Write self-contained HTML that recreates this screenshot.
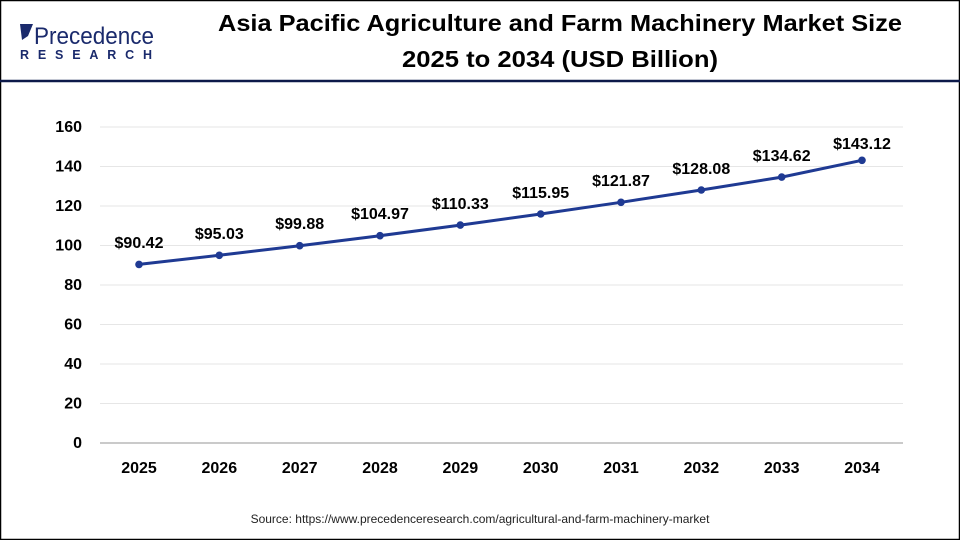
<!DOCTYPE html>
<html><head><meta charset="utf-8"><style>
body{margin:0;width:960px;height:540px;overflow:hidden;background:#fff;font-family:"Liberation Sans",Arial,sans-serif}
</style></head><body>
<svg width="960" height="540" xmlns="http://www.w3.org/2000/svg" font-family="Liberation Sans, Arial, sans-serif">
<rect x="0.5" y="0.5" width="959" height="539" fill="#fff" stroke="#000" stroke-width="1.5"/>
<line x1="0" y1="81" x2="960" y2="81" stroke="#0d1a4a" stroke-width="2.5"/>
<text x="34" y="44" font-size="24" fill="#1a2a6c" textLength="120" lengthAdjust="spacingAndGlyphs">Precedence</text>
<path d="M20 24 L33 24 L28 36 L22 40 Z" fill="#1a2a6c"/>
<text x="20" y="59" font-size="12.5" fill="#1a2a6c" font-weight="bold" textLength="132" lengthAdjust="spacing">RESEARCH</text>
<text x="560" y="31" font-size="23" font-weight="bold" text-anchor="middle" fill="#000" textLength="684" lengthAdjust="spacingAndGlyphs">Asia Pacific Agriculture and Farm Machinery Market Size</text>
<text x="560" y="67" font-size="23" font-weight="bold" text-anchor="middle" fill="#000" textLength="316" lengthAdjust="spacingAndGlyphs">2025 to 2034 (USD Billion)</text>
<g stroke="#e6e6e6" stroke-width="1">
<line x1="100" x2="903" y1="127" y2="127"/><line x1="100" x2="903" y1="166.5" y2="166.5"/><line x1="100" x2="903" y1="206" y2="206"/><line x1="100" x2="903" y1="245.5" y2="245.5"/><line x1="100" x2="903" y1="285" y2="285"/><line x1="100" x2="903" y1="324.5" y2="324.5"/><line x1="100" x2="903" y1="364" y2="364"/><line x1="100" x2="903" y1="403.5" y2="403.5"/>
</g>
<line x1="100" x2="903" y1="443" y2="443" stroke="#aaa" stroke-width="1.2"/>
<g font-size="16" font-weight="bold" text-anchor="end" fill="#000">
<text x="82" y="132">160</text><text x="82" y="171.5">140</text><text x="82" y="211">120</text><text x="82" y="250.5">100</text><text x="82" y="290">80</text><text x="82" y="329.5">60</text><text x="82" y="369">40</text><text x="82" y="408.5">20</text><text x="82" y="448">0</text>
</g>
<g font-size="16" font-weight="bold" text-anchor="middle" fill="#000">
<text x="139" y="473">2025</text><text x="219.3" y="473">2026</text><text x="299.7" y="473">2027</text><text x="380" y="473">2028</text><text x="460.3" y="473">2029</text><text x="540.7" y="473">2030</text><text x="621" y="473">2031</text><text x="701.3" y="473">2032</text><text x="781.7" y="473">2033</text><text x="862" y="473">2034</text>
</g>
<polyline fill="none" stroke="#1f3a93" stroke-width="3" points="139,264.4 219.3,255.3 299.7,245.7 380,235.7 460.3,225.1 540.7,214 621,202.3 701.3,190 781.7,177.1 862,160.3"/>
<g fill="#1f3a93">
<circle cx="139" cy="264.4" r="3.8"/><circle cx="219.3" cy="255.3" r="3.8"/><circle cx="299.7" cy="245.7" r="3.8"/><circle cx="380" cy="235.7" r="3.8"/><circle cx="460.3" cy="225.1" r="3.8"/><circle cx="540.7" cy="214" r="3.8"/><circle cx="621" cy="202.3" r="3.8"/><circle cx="701.3" cy="190" r="3.8"/><circle cx="781.7" cy="177.1" r="3.8"/><circle cx="862" cy="160.3" r="3.8"/>
</g>
<g font-size="16" font-weight="bold" text-anchor="middle" fill="#000">
<text x="139" y="248">$90.42</text><text x="219.3" y="239">$95.03</text><text x="299.7" y="229">$99.88</text><text x="380" y="219">$104.97</text><text x="460.3" y="209">$110.33</text><text x="540.7" y="198">$115.95</text><text x="621" y="186">$121.87</text><text x="701.3" y="174">$128.08</text><text x="781.7" y="161">$134.62</text><text x="862" y="149">$143.12</text>
</g>
<text x="480" y="523" font-size="12" text-anchor="middle" fill="#222">Source: https://www.precedenceresearch.com/agricultural-and-farm-machinery-market</text>
</svg>
</body></html>
